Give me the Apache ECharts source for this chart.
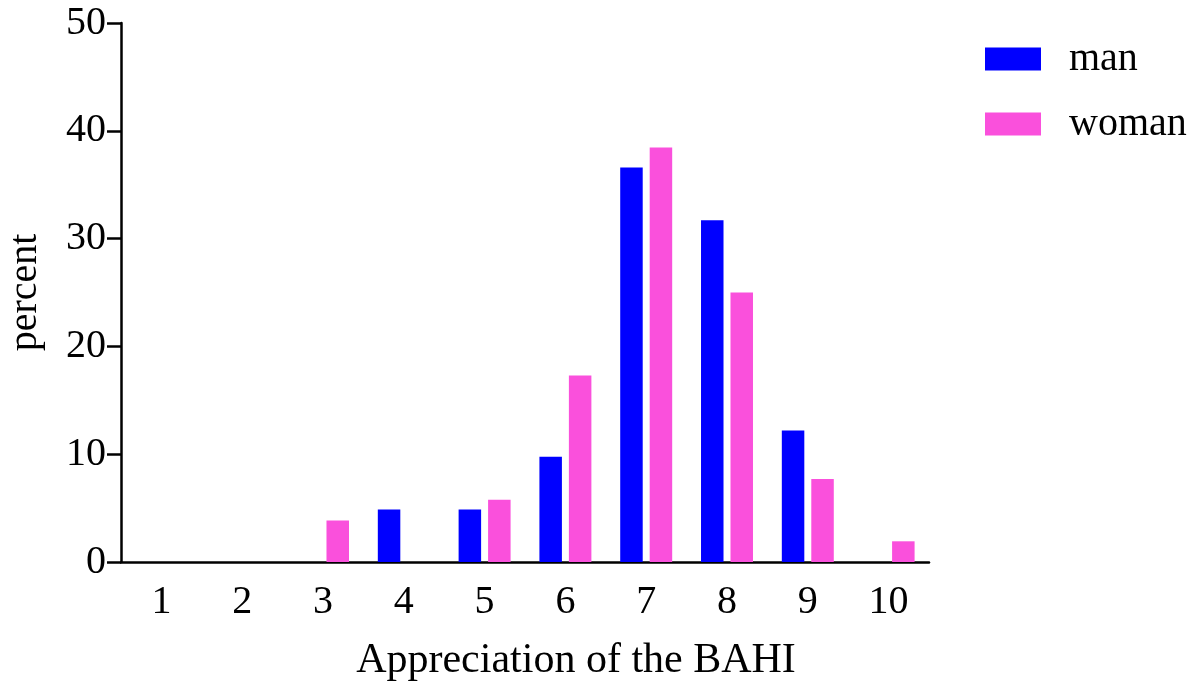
<!DOCTYPE html>
<html>
<head>
<meta charset="utf-8">
<script src="https://cdn.jsdelivr.net/npm/echarts@6/dist/echarts.min.js"></script>
<style>html,body{margin:0;padding:0;background:#fff}#c{width:1194px;height:682px}</style>
</head>
<body>
<div id="c"></div>
<script>
var categories = ['1','2','3','4','5','6','7','8','9','10'];
var manValues = [0, 0, 0, 4.88, 4.88, 9.76, 36.59, 31.71, 12.2, 0];
var womanValues = [0, 0, 3.85, 0, 5.77, 17.31, 38.46, 25.0, 7.69, 1.92];
var yTicks = {min: 0, max: 50, interval: 10};
var seriesNames = ['man', 'woman'];

var font = 'Liberation Serif, Times New Roman, serif';
var chart = echarts.init(document.getElementById('c'), null, {renderer: 'canvas'});
chart.setOption({
  animation: false,
  backgroundColor: '#fff',
  grid: {left: 121, right: 265, top: 23, bottom: 120, containLabel: false, outerBoundsMode: 'none'},
  legend: {
    orient: 'vertical', left: 985, top: 39, padding: 0,
    itemWidth: 56, itemHeight: 23, itemGap: 25,
    icon: 'rect',
    textStyle: {fontFamily: font, fontSize: 40, color: '#000', padding: [0, 0, 0, 23]},
    data: seriesNames
  },
  xAxis: {
    type: 'category', data: categories,
    axisLine: {lineStyle: {color: '#000', width: 2.5}},
    axisTick: {alignWithLabel: true, length: 14, lineStyle: {color: '#000', width: 2.5}},
    axisLabel: {fontFamily: font, fontSize: 40, color: '#000', margin: 20, lineHeight: 40},
    name: 'Appreciation of the BAHI', nameLocation: 'middle', nameGap: 78,
    nameTextStyle: {fontFamily: font, fontSize: 42, color: '#000', lineHeight: 42, padding: [0, 0, 0, 102]}
  },
  yAxis: {
    type: 'value', min: yTicks.min, max: yTicks.max, interval: yTicks.interval,
    splitLine: {show: false},
    axisLine: {show: true, lineStyle: {color: '#000', width: 2.5}},
    axisTick: {show: true, length: 14, lineStyle: {color: '#000', width: 2.5}},
    axisLabel: {fontFamily: font, fontSize: 40, color: '#000', margin: 15},
    name: 'percent', nameLocation: 'middle', nameGap: 76,
    nameTextStyle: {fontFamily: font, fontSize: 40, color: '#000', lineHeight: 40}
  },
  series: [
    {name: seriesNames[0], type: 'bar', data: manValues, barWidth: 22.5, barGap: '31%', itemStyle: {color: '#0000FF'}},
    {name: seriesNames[1], type: 'bar', data: womanValues, barWidth: 22.5, barGap: '31%', itemStyle: {color: '#FA50DC'}}
  ]
});
</script>
</body>
</html>
